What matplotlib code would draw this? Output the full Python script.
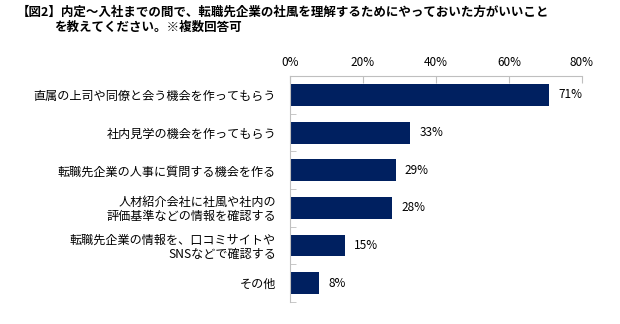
import matplotlib.pyplot as plt
import numpy as np

plt.rcParams['font.family'] = ['Noto Sans CJK JP', 'DejaVu Sans']

categories = [
    "直属の上司や同僚と会う機会を作ってもらう",
    "社内見学の機会を作ってもらう",
    "転職先企業の人事に質問する機会を作る",
    "人材紹介会社に社風や社内の\n評価基準などの情報を確認する",
    "転職先企業の情報を、口コミサイトや\nSNSなどで確認する",
    "その他",
]
values = [71, 33, 29, 28, 15, 8]
xticks = [0, 20, 40, 60, 80]

bar_color = "#002060"
grid_color = "#BFBFBF"

fig = plt.figure(figsize=(6.2, 3.24), dpi=100)
ax = fig.add_axes([0.4677, 0.068, 0.471, 0.697])

y = np.arange(len(categories))
ax.barh(y, values, height=0.58, color=bar_color)
ax.set_ylim(len(categories) - 0.5, -0.5)
ax.set_xlim(0, 80)

for yi, v in zip(y, values):
    ax.text(v + 2.5, yi, f"{v}%", va="center", ha="left", fontsize=8.5, color="#000000")

# percent scale on top
ax.xaxis.tick_top()
ax.set_xticks(xticks)
ax.set_xticklabels([f"{t}%" for t in xticks], fontsize=8.5)
ax.tick_params(axis="x", direction="in", length=5, color=grid_color, pad=5.5)

ax.set_yticks(y)
ax.set_yticklabels(categories, fontsize=8.7, linespacing=1.05)
ax.tick_params(axis="y", which="major", length=0, pad=10)
ax.set_yticks(np.arange(-0.5, len(categories)), minor=True)
ax.tick_params(axis="y", which="minor", direction="in", length=4, color=grid_color)

for side in ["bottom", "right"]:
    ax.spines[side].set_visible(False)
for side in ["top", "left"]:
    ax.spines[side].set_color(grid_color)

fig.text(0.027, 0.963, "【図2】内定～入社までの間で、転職先企業の社風を理解するためにやっておいた方がいいこと",
         fontsize=9, fontweight="bold", va="center", ha="left")
fig.text(0.087, 0.917, "を教えてください。※複数回答可",
         fontsize=9, fontweight="bold", va="center", ha="left")

fig.savefig("out.png", dpi=100)
